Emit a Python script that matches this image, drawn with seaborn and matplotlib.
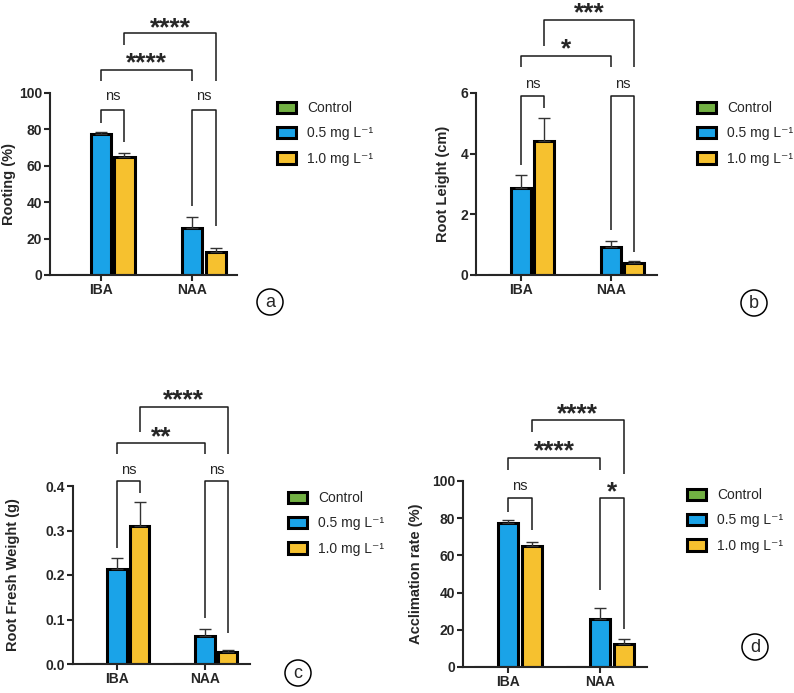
import numpy as np
import pandas as pd
import matplotlib
matplotlib.use('Agg')
import matplotlib.pyplot as plt
import seaborn as sns

auxins = ['IBA', 'NAA']
doses = ['Control', '0.5 mg L⁻¹', '1.0 mg L⁻¹']
colors = ['#72b043', '#1aa3e8', '#f6c12f']

# values per auxin (IBA, NAA); control had no rooting
control = [0, 0]

rooting_05 = [77.2, 25.9]
rooting_10 = [65.1, 12.5]
rooting_05_err = [1.4, 5.9]
rooting_10_err = [2.0, 2.6]

length_05 = [2.87, 0.91]
length_10 = [4.42, 0.40]
length_05_err = [0.42, 0.22]
length_10_err = [0.76, 0.05]

weight_05 = [0.213, 0.064]
weight_10 = [0.310, 0.028]
weight_05_err = [0.026, 0.015]
weight_10_err = [0.053, 0.003]

acclim_05 = [77.3, 25.8]
acclim_10 = [65.1, 12.5]
acclim_05_err = [1.5, 5.9]
acclim_10_err = [2.1, 2.7]

# significance labels: IBA 0.5 vs 1.0, NAA 0.5 vs 1.0, IBA vs NAA at 0.5, IBA vs NAA at 1.0
sig_a = ['ns', 'ns', '****', '****']
sig_b = ['ns', 'ns', '*', '***']
sig_c = ['ns', 'ns', '**', '****']
sig_d = ['ns', '*', '****', '****']

sns.set_style('ticks')
plt.rcParams['font.family'] = ['Liberation Sans', 'DejaVu Sans']

fig = plt.figure(figsize=(7.94, 6.93), dpi=100)
W, H = 794, 693


def make_ax(l, r, b, t):
    return fig.add_axes([l / W, 1 - b / H, (r - l) / W, (b - t) / H])


def bracket(ax, x1, x2, ytop, y1, y2, label, ytext):
    ax.plot([x1, x1, x2, x2], [y1, ytop, ytop, y2], color='#1a1a1a', lw=1.1,
            clip_on=False, solid_capstyle='butt')
    if label == 'ns':
        ax.annotate(label, xy=((x1 + x2) / 2, ytext), xytext=(0, -1), textcoords='offset points',
                    ha='center', va='center', fontsize=10.5, annotation_clip=False)
    else:
        ax.annotate(label, xy=((x1 + x2) / 2, ytext), xytext=(0, -4.5), textcoords='offset points',
                    ha='center', va='center', fontsize=19, fontweight='bold', annotation_clip=False)


def panel(ax, v05, v10, e05, e10, ylabel, yticks, ymax, xlim, sigs, hts, fmt, label_x,
          leg_xy, letter_xy, letter):
    df = pd.DataFrame({
        'auxin': auxins * 3,
        'dose': [doses[0]] * 2 + [doses[1]] * 2 + [doses[2]] * 2,
        'value': control + v05 + v10,
    })
    sns.barplot(data=df, x='auxin', y='value', hue='dose', hue_order=doses, palette=colors,
                width=0.77, gap=0.14, edgecolor='black', linewidth=2.2, saturation=1,
                errorbar=None, legend=False, ax=ax)
    c05 = [p.get_x() + p.get_width() / 2 for p in ax.containers[1]]
    c10 = [p.get_x() + p.get_width() / 2 for p in ax.containers[2]]
    ax.errorbar(c05, v05, yerr=[[0, 0], e05], fmt='none', ecolor='#333333', elinewidth=1,
                capsize=4, capthick=1, zorder=5)
    ax.errorbar(c10, v10, yerr=[[0, 0], e10], fmt='none', ecolor='#333333', elinewidth=1,
                capsize=4, capthick=1, zorder=5)

    ax.set_xlim(*xlim)
    ax.set_ylim(0, ymax)
    ax.set_yticks(yticks)
    ax.set_yticklabels([fmt.format(v) for v in yticks])
    ax.set_xlabel('')
    ax.set_ylabel(ylabel, fontsize=10.5, fontweight='bold')
    pos = ax.get_position()
    ax.yaxis.set_label_coords((label_x / W - pos.x0) / pos.width, 0.5)
    sns.despine(ax=ax)
    for s in ['left', 'bottom']:
        ax.spines[s].set_linewidth(1.5)
    ax.tick_params(width=1.5, length=4, labelsize=10, pad=1.5)
    for t in ax.get_xticklabels() + ax.get_yticklabels():
        t.set_fontweight('bold')

    # brackets: (top, left leg end, right leg end, text y)
    h = hts
    bracket(ax, c05[0], c10[0], h[0][0], h[0][1], h[0][2], sigs[0], h[0][3])
    bracket(ax, c05[1], c10[1], h[1][0], h[1][1], h[1][2], sigs[1], h[1][3])
    bracket(ax, c05[0], c05[1], h[2][0], h[2][1], h[2][2], sigs[2], h[2][3])
    bracket(ax, c10[0], c10[1], h[3][0], h[3][1], h[3][2], sigs[3], h[3][3])

    ax.legend(ax.containers, doses, loc='upper left',
              bbox_to_anchor=(leg_xy[0] / W, 1 - leg_xy[1] / H), bbox_transform=fig.transFigure,
              frameon=False, fontsize=10, borderpad=0, borderaxespad=0,
              handlelength=1.4, handleheight=0.85, handletextpad=0.75, labelspacing=0.82)
    fig.text(letter_xy[0] / W, 1 - letter_xy[1] / H, letter, ha='center', va='center', fontsize=13,
             bbox=dict(boxstyle='circle,pad=0.25', fc='white', ec='black', lw=1.1))


ax_a = make_ax(50, 237, 275, 93)
panel(ax_a, rooting_05, rooting_10, rooting_05_err, rooting_10_err, 'Rooting (%)',
      [0, 20, 40, 60, 80, 100], 100, (-0.56, 1.49), sig_a,
      [(90.8, 83.5, 72.9, 98.9), (90.8, 37.7, 26.7, 98.9), (112.5, 106.8, 106.8, 119.5),
       (133, 126.6, 106.8, 139)], '{:g}', 16, (277, 101), (270, 302), 'a')

ax_b = make_ax(476, 657, 275, 93)
panel(ax_b, length_05, length_10, length_05_err, length_10_err, 'Root Leight (cm)',
      [0, 2, 4, 6], 6, (-0.5, 1.51), sig_b,
      [(5.91, 3.64, 5.51, 6.33), (5.91, 1.47, 0.76, 6.33), (7.21, 6.85, 6.85, 7.65),
       (8.42, 7.56, 6.85, 8.84)], '{:g}', 450, (697, 101), (754, 303), 'b')

ax_c = make_ax(73, 250, 664, 486)
panel(ax_c, weight_05, weight_10, weight_05_err, weight_10_err, 'Root Fresh Weight (g)',
      [0, 0.1, 0.2, 0.3, 0.4], 0.4, (-0.5, 1.51), sig_c,
      [(0.412, 0.260, 0.385, 0.440), (0.412, 0.103, 0.070, 0.440), (0.497, 0.473, 0.473, 0.524),
       (0.578, 0.522, 0.473, 0.607)], '{:.1f}', 20, (288, 491), (298, 673), 'c')

ax_d = make_ax(463, 647, 667, 481)
panel(ax_d, acclim_05, acclim_10, acclim_05_err, acclim_10_err, 'Acclimation rate (%)',
      [0, 20, 40, 60, 80, 100], 100, (-0.49, 1.51), sig_d,
      [(91.0, 83.3, 73.5, 98.2), (91.0, 41.6, 20.6, 97.1), (112.5, 106.1, 106.1, 119.2),
       (132.6, 126.3, 104.0, 139.4)], '{:g}', 423, (687, 488), (755, 647), 'd')

fig.savefig('out.png', dpi=100)
